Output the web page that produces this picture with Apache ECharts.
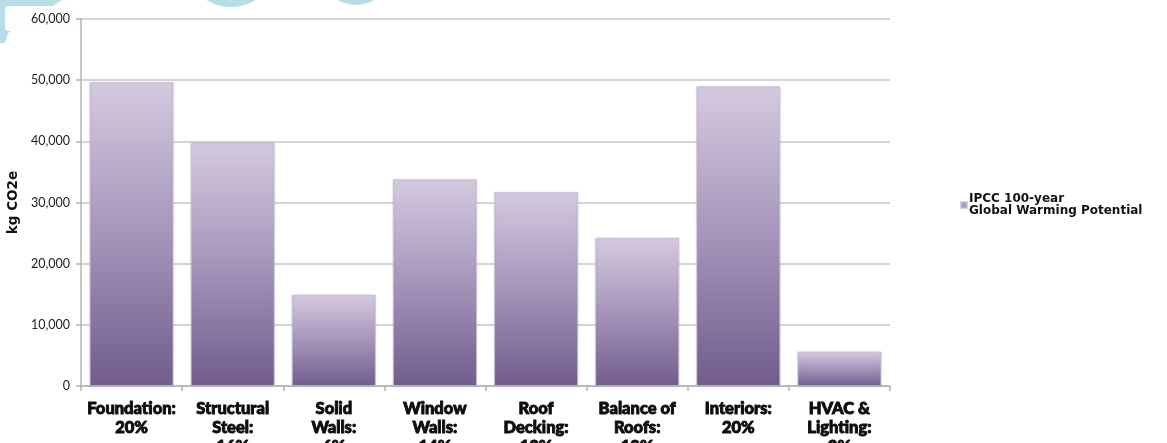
<!DOCTYPE html>
<html>
<head>
<meta charset="utf-8">
<script src="https://cdn.jsdelivr.net/npm/echarts@6/dist/echarts.min.js"></script>
<style>
  html, body { margin: 0; padding: 0; background: #ffffff; }
  #chart { width: 1167px; height: 443px; }
</style>
</head>
<body>
<div id="chart"></div>
<script>
// Building components and their embodied carbon
const categories = ['Foundation:', 'Structural\nSteel:', 'Solid\nWalls:', 'Window\nWalls:', 'Roof\nDecking:', 'Balance of\nRoofs:', 'Interiors:', 'HVAC &\nLighting:'];
const shares = ['20%', '16%', '6%', '14%', '13%', '10%', '20%', '2%'];
const gwpValues = [49700, 39800, 14900, 33800, 31700, 24200, 49000, 5600];
const yTicks = [0, 10000, 20000, 30000, 40000, 50000, 60000];
const seriesName = 'IPCC 100-year\nGlobal Warming Potential';

const axisLabels = categories.map((c, i) => c + '\n' + shares[i]);
const FONT = 'Lato, "DejaVu Sans", sans-serif';
const WIDE = '"DejaVu Sans", Lato, sans-serif';
const ORNAMENT = '#b7dde7';

const chart = echarts.init(document.getElementById('chart'), null, { renderer: 'canvas' });

const barFill = new echarts.graphic.LinearGradient(0, 0, 0, 1, [
  { offset: 0, color: '#d4cadf' },
  { offset: 0.5, color: '#a595ba' },
  { offset: 1, color: '#715c8c' }
]);

chart.setOption({
  backgroundColor: '#ffffff',
  animation: false,
  textStyle: { fontFamily: FONT },
  graphic: [
    // light-blue slide ornaments along the top edge, behind the chart
    { type: 'polygon', shape: { points: [[0, 0], [62, 0], [40, 14], [20, 26], [8, 33], [5, 43], [0, 43]] }, style: { fill: ORNAMENT }, z: -2 },
    { type: 'rect', shape: { x: 5, y: 6, width: 70, height: 25, r: 4 }, style: { fill: '#fefefe' }, z: -1 },
    { type: 'circle', shape: { cx: 231, cy: -40, r: 47 }, style: { fill: ORNAMENT }, z: -2 },
    { type: 'circle', shape: { cx: 356, cy: -30, r: 35 }, style: { fill: ORNAMENT }, z: -2 }
  ],
  grid: { left: 81, right: 277, top: 19, bottom: 57, containLabel: false, outerBoundsMode: 'none' },
  legend: {
    show: true,
    left: 955,
    top: 182,
    orient: 'vertical',
    itemWidth: 6,
    itemHeight: 6,
    itemGap: 4,
    icon: 'rect',
    textStyle: { fontFamily: WIDE, fontWeight: 'bold', fontSize: 12, color: '#111', lineHeight: 12, padding: [12, 0, 0, -3] },
    data: [{ name: seriesName, itemStyle: { color: '#a898bd' } }]
  },
  xAxis: {
    type: 'category',
    data: axisLabels,
    axisLine: { show: true, lineStyle: { color: '#b3b3b3', width: 1.5 } },
    axisTick: { show: true, length: 5, lineStyle: { color: '#b3b3b3', width: 1.5 } },
    axisLabel: {
      interval: 0,
      margin: 13,
      fontFamily: FONT,
      fontWeight: 900,
      fontSize: 16.5,
      lineHeight: 19,
      color: '#0d0d0d',
      textBorderColor: '#0d0d0d',
      textBorderWidth: 0.9,
      align: 'center'
    }
  },
  yAxis: {
    type: 'value',
    min: yTicks[0],
    max: yTicks[yTicks.length - 1],
    interval: yTicks[1] - yTicks[0],
    name: 'kg CO2e',
    nameLocation: 'middle',
    nameGap: 51,
    nameRotate: 90,
    nameTextStyle: { fontFamily: WIDE, fontWeight: 'bold', fontSize: 13.5, color: '#111' },
    axisLine: { show: true, lineStyle: { color: '#b3b3b3', width: 1.5 } },
    axisTick: { show: true, length: 5, lineStyle: { color: '#b3b3b3', width: 1.5 } },
    axisLabel: {
      margin: 11,
      fontFamily: FONT,
      fontSize: 12.5,
      color: '#222',
      formatter: v => v.toLocaleString('en-US')
    },
    splitLine: { show: true, lineStyle: { color: '#c6c6c6', width: 1.5 } }
  },
  series: [{
    name: seriesName,
    type: 'bar',
    data: gwpValues,
    barCategoryGap: '17%',
    itemStyle: {
      color: barFill,
      borderColor: 'rgba(200,190,215,0.7)',
      borderWidth: 1,
      shadowColor: 'rgba(120,100,150,0.25)',
      shadowBlur: 2
    }
  }]
});
</script>
</body>
</html>
